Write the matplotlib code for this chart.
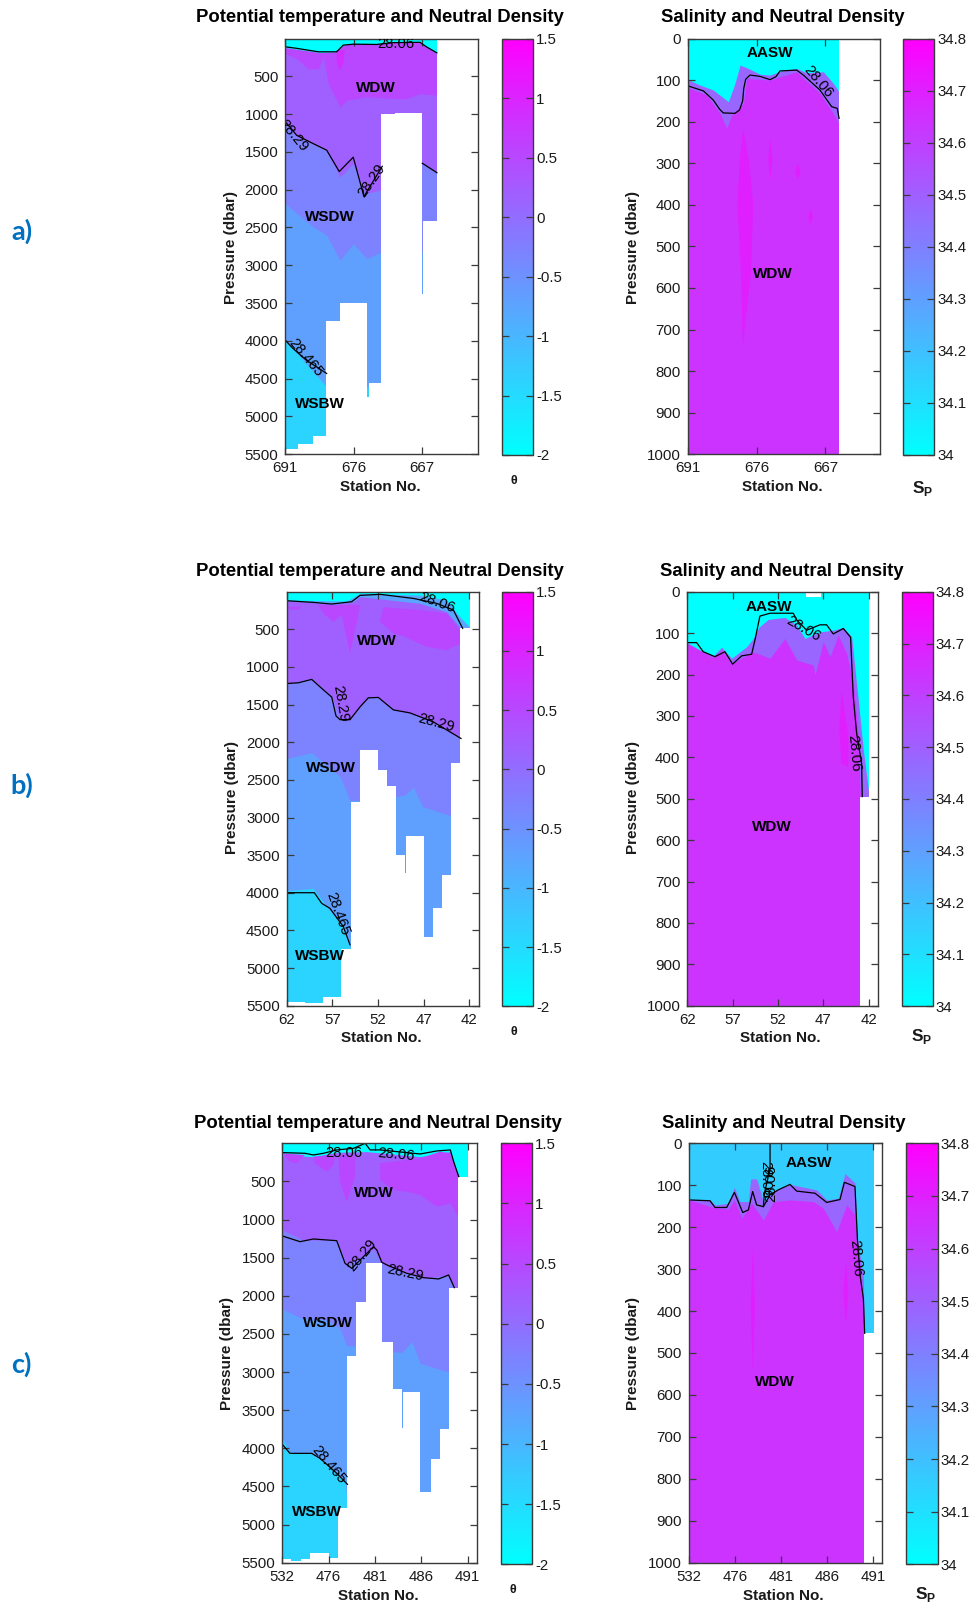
import matplotlib
matplotlib.use('Agg')
import matplotlib.pyplot as plt
from matplotlib.colors import Normalize
from matplotlib.cm import ScalarMappable

plt.rcParams['font.family'] = ['Liberation Sans', 'DejaVu Sans']

W, H = 970, 1605

# station axis: tick labels per transect
a_stations = ['691', '676', '667']
b_stations = ['62', '57', '52', '47', '42']
c_stations = ['532', '476', '481', '486', '491']

theta_ticks = [-2, -1.5, -1, -0.5, 0, 0.5, 1, 1.5]
theta_labels = ['-2', '-1.5', '-1', '-0.5', '0', '0.5', '1', '1.5']
sal_ticks = [34, 34.1, 34.2, 34.3, 34.4, 34.5, 34.6, 34.7, 34.8]
sal_labels = ['34', '34.1', '34.2', '34.3', '34.4', '34.5', '34.6', '34.7', '34.8']

# band values (colour scale units)
T_SURF, T_COLD, T_MID, T_BLUE, T_BV, T_VIOLET, T_WARM = -2.0, -1.4, -0.75, -0.7, -0.28, 0.2, 0.52
T_HOT = 0.87
S_VIOLET, S_MAIN, S_HOT = 34.48, 34.64, 34.7

# ---- a) potential temperature
a_t_warm_x = [0, 2.53, 3.75, 4.23, 4.96, 6.67, 7.88, 9.83, 11.07]
a_t_warm_y = [120, 185, 175, 90, 66, 66, 44, 44, 200]
a_t_violet_x = [0, .83, 1.68, 2.41, 2.77, 3.14, 3.99, 4.48, 5.94, 7.88, 8.86, 9.83, 11.07]
a_t_violet_y = [200, 265, 400, 400, 240, 595, 905, 815, 770, 795, 795, 730, 750]
a_t_bv_x = [0, .83, 1.8, 3.02, 3.99, 4.96, 5.82, 7.08, 10, 11.07]
a_t_bv_y = [1100, 1300, 1367, 1477, 1830, 1653, 2050, 2000, 1650, 1763]
a_t_blue_x = [0, .83, 2.05, 3.02, 3.99, 4.96, 5.94, 7.08, 11.07]
a_t_blue_y = [2182, 2315, 2490, 2600, 2932, 2712, 2910, 2820, 2820]
a_t_cold_x = [0, 3.02, 11.07]
a_t_cold_y = [3990, 4607, 4607]
a_t_blob_x = [3.75, 4.36, 4.23, 3.99, 3.75]
a_t_blob_y = [154, 154, 331, 419, 309]
a_t_floor_x = [0, .95, 2, 3, 4, 6, 6.08, 7, 8, 10, 10.08, 11.07, 14.09]
a_t_floor_p = [5436, 5370, 5260, 3739, 3496, 4740, 4555, 1005, 992, 3386, 2416, 0]
a_t_c06_x = [0, .83, 2.41, 3.75, 4.23, 4.96, 6.67, 7.88, 9.83, 10.3, 11.07]
a_t_c06_y = [110, 130, 176, 176, 88, 75, 79, 55, 50, 110, 190]
a_t_c29_x = [0, .83, 1.92, 3.02, 3.94, 4.96, 5.74, 7.08]
a_t_c29_y = [1100, 1280, 1380, 1477, 1760, 1570, 2090, 1690]
a_t_c29b_x = [10, 11.07]
a_t_c29b_y = [1650, 1775]
a_t_c465_x = [0, .5, 1.5, 3.02]
a_t_c465_y = [3990, 4090, 4250, 4431]

# ---- a) salinity
a_s_violet_x = [0, .87, 1.84, 2.94, 3.42, 3.79, 4.39, 5.24, 5.97, 6.82, 7.91, 8.64, 9.85, 10.58, 11]
a_s_violet_y = [99, 112, 124, 152, 108, 64, 72, 86, 88, 78, 72, 82, 80, 108, 128]
a_s_main_x = [0, 1.36, 2.33, 2.82, 3.18, 4.03, 4.27, 5.97, 7.91, 9.61, 10.58, 11]
a_s_main_y = [118, 136, 180, 216, 184, 156, 96, 100, 80, 132, 180, 204]
a_s_c06_x = [0, 1.12, 1.84, 2.3, 2.57, 3.42, 3.75, 3.98, 4.06, 4.2, 4.51, 5.24, 5.97, 6.4, 6.7, 7.91, 8.4, 9.61, 10.46, 10.87, 11]
a_s_c06_y = [114, 126, 148, 170, 179, 180, 172, 150, 120, 98, 88, 91, 99, 92, 78, 76, 88, 124, 164, 168, 192]
a_s_blob1_x = [4.03, 4.45, 4.75, 4.6, 4.0, 3.85, 3.6, 3.8]
a_s_blob1_y = [216, 300, 400, 560, 737, 560, 400, 280]
a_s_blob2_x = [5.97, 6.16, 6.0, 5.85]
a_s_blob2_y = [240, 290, 340, 290]
a_s_blob3_x = [8.0, 8.2, 8.0, 7.8]
a_s_blob3_y = [300, 320, 340, 320]
a_s_blob4_x = [8.93, 9.1, 8.93, 8.75]
a_s_blob4_y = [412, 428, 445, 428]
a_s_floor_x = [0, 11, 13.98]
a_s_floor_p = [1000, 0]

# ---- b) potential temperature
b_t_mid_x = [0, 6.57, 8.03, 14.6, 17.5, 18.95, 20.07]
b_t_mid_y = [111, 124, 22, 44, 111, 332, 474]
b_t_violet_x = [0, 2.92, 5.11, 7.3, 8.03, 14.6, 17.5, 19.09, 20.07]
b_t_violet_y = [120, 146, 168, 133, 66, 155, 266, 487, 487]
b_t_bv_x = [0, 1.28, 2.74, 3.98, 4.93, 5.84, 6.93, 8.03, 8.94, 10.04, 11.68, 13.5, 16.06, 19.09]
b_t_bv_y = [1218, 1187, 1151, 1284, 1386, 1683, 1705, 1528, 1395, 1395, 1563, 1616, 1727, 1948]
b_t_blue_x = [0, 2.74, 5.84, 6.93, 8.03, 11.86, 12.96, 13.87, 14.89, 18.07]
b_t_blue_y = [2214, 2139, 2457, 2776, 2767, 2723, 2701, 2600, 2856, 2980]
b_t_cold_x = [0, 2.92, 4.38, 6.2, 7.0]
b_t_cold_y = [3972, 3941, 4184, 4450, 4750]
b_t_blob1_x = [.18, 1.64, 1.28, .37]
b_t_blob1_y = [199, 199, 235, 235]
b_t_blob2_x = [3.47, 8.03, 7.66, 6.93, 6.02, 5.11, 4.01]
b_t_blob2_y = [177, 177, 421, 810, 310, 399, 288]
b_t_blob3_x = [10.58, 14.6, 17.5, 19.09, 19.09, 17.5, 15.33, 12.77, 11.68, 10.22]
b_t_blob3_y = [208, 244, 288, 531, 686, 775, 731, 589, 553, 399]
b_t_floor_x = [0, 2, 4, 6, 7, 8, 10, 11, 12, 13, 13.1, 15, 16, 17, 18, 19, 20.07, 21.06]
b_t_floor_p = [5450, 5470, 5390, 4750, 2800, 2103, 2370, 2580, 3503, 3733, 3246, 4583, 4198, 3764, 2272, 487, 0]
b_t_c06_x = [0, 2.92, 4.93, 7.12, 8.03, 10.22, 13.87, 16.42, 18.25, 19.27]
b_t_c06_y = [120, 142, 164, 133, 49, 35, 89, 155, 243, 487]
b_t_c29_x = [0, 1.28, 2.74, 3.98, 4.93, 5.4, 5.84, 6.93, 8.03, 8.94, 10.04, 11.68, 13.5, 16.06, 19.09]
b_t_c29_y = [1220, 1210, 1165, 1300, 1400, 1650, 1700, 1700, 1530, 1410, 1405, 1570, 1610, 1730, 1950]
b_t_c465_x = [0, 3.03, 3.83, 4.74, 6.2, 6.93]
b_t_c465_y = [3999, 3999, 4140, 4207, 4450, 4690]

# ---- b) salinity
b_s_violet_x = [0, 1.4, 2.87, 3.79, 4.89, 6.54, 7.28, 7.94, 8.93, 10.77, 12.06, 12.98, 14.63, 16.1, 17.21, 18.13, 18.86, 19.41, 20.07]
b_s_violet_y = [123, 141, 155, 134, 161, 133, 113, 85, 67, 62, 81, 113, 97, 93, 86, 109, 262, 382, 495]
b_s_main_x = [0, 2.87, 3.79, 4.89, 6.54, 7.28, 9.12, 10.77, 12.06, 13.9, 14.08, 15, 15.74, 16.65, 17.57, 18.31, 18.86, 19.08, 20.07]
b_s_main_y = [126, 159, 141, 175, 153, 145, 161, 113, 165, 177, 201, 121, 157, 105, 149, 221, 350, 493, 495]
b_s_c06_x = [0, 1.03, 1.76, 3.05, 4.15, 5, 5.99, 7.1, 7.46, 8.01, 9.12, 11.69, 12.06, 13.16, 14.63, 15.37, 16.1, 17.21, 18.01, 18.31, 18.68, 19.23, 19.3]
b_s_c06_y = [123, 123, 145, 157, 145, 175, 155, 151, 117, 59, 52, 52, 68, 93, 80, 80, 102, 89, 110, 254, 342, 415, 495]
b_s_blob_x = [17.02, 17.76, 17.76, 17.02, 16.76]
b_s_blob_y = [237, 350, 423, 415, 334]
b_s_floor_x = [0, 19.07, 20.07, 21.07]
b_s_floor_p = [1000, 495, 0]
b_s_gap_x = [13.1, 14.8]
b_s_gap_y = [12, 12]

# ---- c) potential temperature
c_t_violet_x = [0, 3.35, 5.87, 9.12, 14.88, 18.13, 18.49, 19.1, 20.07]
c_t_violet_y = [153, 175, 118, 109, 175, 109, 262, 437, 437]
c_t_bv_x = [0, 1.55, 2.27, 5.87, 6.95, 7.68, 9.12, 9.84, 10.56, 11.28, 12.72, 15.24, 17.77, 18.67]
c_t_bv_y = [1137, 1224, 1268, 1268, 1596, 1552, 1443, 1385, 1552, 1618, 1661, 1771, 1727, 1893]
c_t_blue_x = [0, 2.09, 4.79, 6.23, 6.95, 8.04, 11.9, 12.9, 13.98, 14.88, 18.13]
c_t_blue_y = [2173, 2295, 2317, 2426, 2654, 2654, 2733, 2741, 2601, 2886, 3008]
c_t_cold_x = [0, .83, 2.99, 4.79, 6.77, 7.03]
c_t_cold_y = [3869, 4066, 4066, 4197, 4437, 4787]
c_t_blob1_x = [0, 2.45, 1.55, .83]
c_t_blob1_y = [131, 153, 262, 240]
c_t_blob2_x = [3.35, 5.69, 5.51, 4.79, 3.53]
c_t_blob2_y = [175, 153, 284, 372, 262]
c_t_blob3_x = [6.05, 7.86, 7.86, 6.95, 6.23]
c_t_blob3_y = [153, 153, 437, 765, 503]
c_t_blob4_x = [10.56, 14.88, 17.05, 18.13, 19.1, 19.1, 18.13, 16.68, 14.88, 13.44, 12, 10.56]
c_t_blob4_y = [262, 197, 109, 131, 437, 984, 787, 831, 678, 634, 612, 481]
c_t_floor_x = [0, .9, 2, 3, 5, 6, 7, 8, 9, 10.8, 11.9, 12.9, 13, 14.9, 16, 17, 18, 19, 20.07, 21.04]
c_t_floor_p = [5452, 5478, 5452, 5378, 5434, 4787, 2785, 2077, 1565, 2610, 3227, 3738, 3257, 4577, 4140, 3747, 1893, 437, 0]
c_t_c06_x = [0, 2.45, 3.35, 4.43, 5.87, 7.68, 8.94, 9.48, 10.56, 14.88, 16.68, 18.13, 18.49, 19.03]
c_t_c06_y = [122, 131, 153, 131, 87, 66, 0, 87, 87, 140, 100, 87, 240, 437]
c_t_c29_x = [0, 1.91, 3.35, 5.87, 6.77, 7.5, 9.84, 10.2, 10.74, 11.46, 13.44, 15.24, 16.86, 17.95, 18.56]
c_t_c29_y = [1215, 1290, 1255, 1277, 1574, 1640, 1355, 1399, 1561, 1605, 1705, 1762, 1779, 1727, 1893]
c_t_c465_x = [0, .83, 3.17, 4.07, 5.87, 7.03]
c_t_c465_y = [3948, 4066, 4066, 4131, 4328, 4472]

# ---- c) salinity
c_s_surf = 34.16
c_s_violet_x = [0, 2.31, 2.85, 4.3, 4.95, 5.56, 6.46, 6.71, 7.36, 8.09, 9.17, 10.97, 13.86, 14.95, 16.21, 16.93, 18.01, 18.27, 18.92, 19.02, 20.07]
c_s_violet_y = [134, 135, 147, 143, 105, 139, 139, 85, 85, 139, 115, 98, 111, 135, 131, 72, 95, 227, 322, 453, 453]
c_s_main_x = [0, 2.67, 4.3, 4.95, 5.74, 6.82, 8.09, 9.17, 10.97, 13.5, 14.58, 16.03, 17.11, 18.01, 18.38, 18.92, 19.02, 20.07]
c_s_main_y = [135, 153, 157, 135, 179, 143, 183, 139, 135, 139, 155, 211, 147, 171, 250, 386, 453, 453]
c_s_c06_x = [0, 2.31, 2.85, 4.12, 4.95, 5.85, 6.46, 6.93, 7.36, 8.09, 8.81, 9.71, 10.97, 11.7, 13.68, 14.95, 16.39, 16.86, 18.01, 18.27, 18.56, 18.92, 19.06]
c_s_c06_y = [135, 137, 153, 153, 117, 165, 159, 115, 147, 151, 123, 111, 98, 114, 119, 141, 134, 93, 103, 227, 314, 370, 453]
c_s_c06b_x = [8.81, 8.81, 8.2, 8.09]
c_s_c06b_y = [0, 60, 120, 151]
c_s_blob1_x = [6.93, 7.18, 6.93, 6.71]
c_s_blob1_y = [254, 386, 545, 386]
c_s_blob2_x = [17.04, 17.29, 17.04, 16.75]
c_s_blob2_y = [282, 354, 433, 354]
c_s_floor_x = [0, 19.02, 20.07, 20.97]
c_s_floor_p = [1000, 453, 0]

cmap = plt.get_cmap('cool')
t_norm = Normalize(-2, 1.5)
s_norm = Normalize(34, 34.8)
AX_COL = '#3a3a3a'
TXT_COL = '#1a1a1a'
TICK_SIZE = 10.8
LABEL_SIZE = 11
TITLE_SIZE = 13.35

fig = plt.figure(figsize=(W / 100, H / 100), dpi=100)


def px_axes(left, top, right, bottom):
    return fig.add_axes([left / W, 1 - bottom / H, (right - left) / W, (bottom - top) / H])


def px_text(x, y, s, **kw):
    kw.setdefault('ha', 'center')
    kw.setdefault('va', 'center')
    return fig.text(x / W, 1 - y / H, s, **kw)


def section(box, norm, base, base_right, bands, blobs, floor_x, floor_p, lines, xmax, ymax, yticks, stations):
    ax = px_axes(*box)
    ax.set_xlim(0, xmax)
    ax.set_ylim(ymax, 0)
    ax.fill_between([0, base_right], 0, ymax, color=cmap(norm(base)), lw=0)
    for val, xs, ys in bands:
        ax.fill_between(xs, ys, ymax, color=cmap(norm(val)), lw=0)
    for val, xs, ys in blobs:
        ax.fill(xs, ys, color=cmap(norm(val)), lw=0)
    ax.stairs(floor_p, floor_x, baseline=ymax, fill=True, color='white', lw=0)
    for xs, ys in lines:
        ax.plot(xs, ys, color='black', lw=0.9)
    ax.set_xticks([5 * i for i in range(len(stations))])
    ax.set_xticklabels(stations)
    ax.set_yticks(yticks)
    ax.tick_params(direction='in', top=True, right=True, length=5, width=0.9, color=AX_COL,
                   labelsize=TICK_SIZE, labelcolor=TXT_COL, pad=5)
    for sp in ax.spines.values():
        sp.set_color(AX_COL)
        sp.set_linewidth(1.0)
    return ax


def colorbar(box, norm, ticks, labels):
    cax = px_axes(*box)
    cb = fig.colorbar(ScalarMappable(norm=norm, cmap=cmap), cax=cax)
    cb.set_ticks(ticks)
    cb.set_ticklabels(labels)
    cb.outline.set_edgecolor(AX_COL)
    cb.outline.set_linewidth(1.0)
    cax.yaxis.set_ticks_position('both')
    cax.tick_params(direction='in', length=5, width=0.9, color=AX_COL, labelsize=TICK_SIZE,
                    labelcolor=TXT_COL, labelleft=False, labelright=True, pad=2)
    cb.minorticks_off()


def annotate(ax, waters, contours):
    for x, y, s in waters:
        ax.text(x, y, s, fontsize=11, fontweight='bold', color='black', ha='center', va='center')
    for x, y, s, rot in contours:
        ax.text(x, y, s, fontsize=10.6, color='black', ha='center', va='center', rotation=rot, clip_on=True)


def frame(title_xy, xlabel_xy, ylabel_xy, title):
    px_text(title_xy[0], title_xy[1], title, fontsize=TITLE_SIZE, fontweight='bold', color='black')
    px_text(xlabel_xy[0], xlabel_xy[1], 'Station No.', fontsize=LABEL_SIZE, fontweight='bold', color=TXT_COL)
    px_text(ylabel_xy[0], ylabel_xy[1], 'Pressure (dbar)', fontsize=LABEL_SIZE, fontweight='bold',
            color=TXT_COL, rotation=90)


t_yticks = list(range(500, 5501, 500))
s_yticks = list(range(0, 1001, 100))
TITLE_T = 'Potential temperature and Neutral Density'
TITLE_S = 'Salinity and Neutral Density'

# row a
ax = section((285.3, 38.5, 478.3, 454.3), t_norm, T_SURF, 11.07,
             [(T_WARM, a_t_warm_x, a_t_warm_y), (T_VIOLET, a_t_violet_x, a_t_violet_y), (T_BV, a_t_bv_x, a_t_bv_y),
              (T_BLUE, a_t_blue_x, a_t_blue_y), (T_COLD, a_t_cold_x, a_t_cold_y)],
             [(T_HOT, a_t_blob_x, a_t_blob_y)], a_t_floor_x, a_t_floor_p,
             [(a_t_c06_x, a_t_c06_y), (a_t_c29_x, a_t_c29_y), (a_t_c29b_x, a_t_c29b_y), (a_t_c465_x, a_t_c465_y)],
             14.09, 5500, t_yticks, a_stations)
annotate(ax, [(6.62, 661, 'WDW'), (3.26, 2359, 'WSDW'), (2.53, 4837, 'WSBW')],
         [(8.08, 79, '28.06', 0), (.6, 1278, '28.29', -50), (6.3, 1874, '28.29', 55), (1.51, 4219, '28.465', -50)])
colorbar((502, 39, 533.3, 455), t_norm, theta_ticks, theta_labels)
frame((380, 18), (380, 487), (231, 247), TITLE_T)
px_text(514, 481, 'θ', fontsize=9, fontweight='bold', color=TXT_COL)

ax = section((688, 38.5, 880, 454.3), s_norm, 34.0, 11,
             [(S_VIOLET, a_s_violet_x, a_s_violet_y), (S_MAIN, a_s_main_x, a_s_main_y)],
             [(S_HOT, a_s_blob1_x, a_s_blob1_y), (S_HOT, a_s_blob2_x, a_s_blob2_y),
              (S_HOT, a_s_blob3_x, a_s_blob3_y), (S_HOT, a_s_blob4_x, a_s_blob4_y)],
             a_s_floor_x, a_s_floor_p, [(a_s_c06_x, a_s_c06_y)], 13.98, 1000, s_yticks, a_stations)
annotate(ax, [(5.97, 36, 'AASW'), (6.21, 567, 'WDW')], [(9.49, 104, '28.06', -50)])
colorbar((903.3, 39, 934.3, 455), s_norm, sal_ticks, sal_labels)
frame((783, 18), (782, 487), (633, 247), TITLE_S)
px_text(923, 488, 'S$_\\mathregular{P}$', fontsize=12.5, fontweight='bold', color=TXT_COL)

# row b
ax = section((286.7, 591.7, 479, 1005.7), t_norm, T_SURF, 20.07,
             [(T_MID, b_t_mid_x, b_t_mid_y), (T_VIOLET, b_t_violet_x, b_t_violet_y), (T_BV, b_t_bv_x, b_t_bv_y),
              (T_BLUE, b_t_blue_x, b_t_blue_y), (T_COLD, b_t_cold_x, b_t_cold_y)],
             [(T_WARM, b_t_blob1_x, b_t_blob1_y), (T_WARM, b_t_blob2_x, b_t_blob2_y), (T_WARM, b_t_blob3_x, b_t_blob3_y)],
             b_t_floor_x, b_t_floor_p, [(b_t_c06_x, b_t_c06_y), (b_t_c29_x, b_t_c29_y), (b_t_c465_x, b_t_c465_y)],
             21.06, 5500, t_yticks, b_stations)
annotate(ax, [(9.85, 654, 'WDW'), (4.85, 2347, 'WSDW'), (3.69, 4835, 'WSBW')],
         [(16.5, 142, '28.06', -20), (5.84, 1483, '28.29', -80), (16.42, 1749, '28.29', -15), (5.55, 4273, '28.465', -70)])
colorbar((502, 591.7, 533.3, 1006.3), t_norm, theta_ticks, theta_labels)
frame((380, 572), (381, 1038), (232, 798), TITLE_T)
px_text(514, 1032, 'θ', fontsize=9, fontweight='bold', color=TXT_COL)

ax = section((687.3, 591.7, 878.3, 1005.7), s_norm, 34.0, 20.07,
             [(S_VIOLET, b_s_violet_x, b_s_violet_y), (S_MAIN, b_s_main_x, b_s_main_y)],
             [(S_HOT, b_s_blob_x, b_s_blob_y)],
             b_s_floor_x, b_s_floor_p, [(b_s_c06_x, b_s_c06_y)], 21.07, 1000, s_yticks, b_stations)
ax.fill_between(b_s_gap_x, 0, b_s_gap_y, color='white', lw=0)
annotate(ax, [(9.0, 36, 'AASW'), (9.3, 568, 'WDW')], [(12.8, 89, '28.06', -30), (18.38, 390, '28.06', -85)])
colorbar((901.7, 591.7, 932.7, 1006.3), s_norm, sal_ticks, sal_labels)
frame((782, 572), (780, 1038), (633, 798), TITLE_S)
px_text(922, 1037, 'S$_\\mathregular{P}$', fontsize=12.5, fontweight='bold', color=TXT_COL)

# row c
ax = section((282.3, 1143.3, 477.3, 1562.7), t_norm, T_SURF, 20.07,
             [(T_VIOLET, c_t_violet_x, c_t_violet_y), (T_BV, c_t_bv_x, c_t_bv_y),
              (T_BLUE, c_t_blue_x, c_t_blue_y), (T_COLD, c_t_cold_x, c_t_cold_y)],
             [(T_WARM, c_t_blob1_x, c_t_blob1_y), (T_WARM, c_t_blob2_x, c_t_blob2_y),
              (T_WARM, c_t_blob3_x, c_t_blob3_y), (T_WARM, c_t_blob4_x, c_t_blob4_y)],
             c_t_floor_x, c_t_floor_p, [(c_t_c06_x, c_t_c06_y), (c_t_c29_x, c_t_c29_y), (c_t_c465_x, c_t_c465_y)],
             21.04, 5500, t_yticks, c_stations)
annotate(ax, [(9.91, 656, 'WDW'), (4.9, 2352, 'WSDW'), (3.71, 4831, 'WSBW')],
         [(6.67, 122, '28.06', 0), (12.29, 144, '28.06', -5), (8.58, 1465, '28.29', 50),
          (13.26, 1705, '28.29', -12), (4.97, 4210, '28.465', -50)])
colorbar((500.7, 1143.3, 532.3, 1564.3), t_norm, theta_ticks, theta_labels)
frame((378, 1123), (378, 1596), (227, 1353), TITLE_T)
px_text(513, 1590, 'θ', fontsize=9, fontweight='bold', color=TXT_COL)

ax = section((688.7, 1143.3, 882.3, 1562.7), s_norm, c_s_surf, 20.07,
             [(S_VIOLET, c_s_violet_x, c_s_violet_y), (S_MAIN, c_s_main_x, c_s_main_y)],
             [(S_HOT, c_s_blob1_x, c_s_blob1_y), (S_HOT, c_s_blob2_x, c_s_blob2_y)],
             c_s_floor_x, c_s_floor_p, [(c_s_c06_x, c_s_c06_y), (c_s_c06b_x, c_s_c06b_y)], 20.97, 1000, s_yticks, c_stations)
annotate(ax, [(13.03, 46, 'AASW'), (9.28, 568, 'WDW')],
         [(8.34, 87, '28.06', -90), (8.99, 95, '28.06', 90), (18.09, 273, '28.06', -85)])
colorbar((906, 1143.3, 937.7, 1564.3), s_norm, sal_ticks, sal_labels)
frame((784, 1123), (783, 1596), (633, 1353), TITLE_S)
px_text(926, 1595, 'S$_\\mathregular{P}$', fontsize=12.5, fontweight='bold', color=TXT_COL)

# panel letters
for s, y in [('a)', 231), ('b)', 785), ('c)', 1364)]:
    px_text(21.5, y, s, fontsize=19.5, fontweight='bold', color='#0070C0', family=['Lato', 'DejaVu Sans'])

fig.savefig('out.png', dpi=100)
